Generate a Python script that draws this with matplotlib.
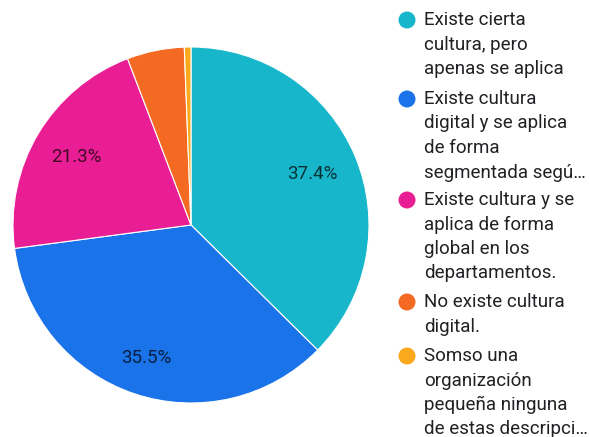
import matplotlib
matplotlib.use("Agg")
import matplotlib.pyplot as plt
from matplotlib.patches import Ellipse
import numpy as np

plt.rcParams['font.family'] = ['Roboto', 'DejaVu Sans']

# Survey answers and shares (%)
labels = [
    "Existe cierta\ncultura, pero\napenas se aplica",
    "Existe cultura\ndigital y se aplica\nde forma\nsegmentada segú…",
    "Existe cultura y se\naplica de forma\nglobal en los\ndepartamentos.",
    "No existe cultura\ndigital.",
    "Somso una\norganización\npequeña ninguna\nde estas descripci…",
]
shares = [37.4, 35.5, 21.3, 5.2, 0.6]
colors = ["#17B6CA", "#1A73E8", "#EA1E94", "#F46A22", "#FBA91C"]

W, H = 589, 437
fig = plt.figure(figsize=(W / 100, H / 100), dpi=100)

# pie centred at (191, 225) px, radius 178 px
cx, cy, r = 191, 225, 178
ax = fig.add_axes([(cx - r) / W, (H - cy - r) / H, 2 * r / W, 2 * r / H])
wedges, _ = ax.pie(shares, colors=colors, startangle=90, counterclock=False,
                   radius=1.0, wedgeprops=dict(edgecolor="white", linewidth=0.8))
ax.set_xlim(-1, 1)
ax.set_ylim(-1, 1)
ax.set_aspect("equal")
ax.axis("off")

# percentage labels on the three larger slices
label_rad = {0: 0.74, 1: 0.79, 2: 0.75}
for i, w in enumerate(wedges):
    if i not in label_rad:
        continue
    mid = np.deg2rad((w.theta1 + w.theta2) / 2)
    rad = label_rad[i]
    ax.text(rad * np.cos(mid), rad * np.sin(mid), f"{shares[i]:.1f}%",
            ha="center", va="center", fontsize=13.5, color="black", alpha=0.72)

# legend: circle marker aligned with the first text line
entry_top = [20, 99, 200, 302, 356]
line_gap = 24.5
for lab, col, y0 in zip(labels, colors, entry_top):
    fig.patches.append(Ellipse((407 / W, 1 - y0 / H), 17 / W, 17 / H,
                               transform=fig.transFigure, facecolor=col, edgecolor="none"))
    for k, line in enumerate(lab.split("\n")):
        fig.text(424 / W, 1 - (y0 + k * line_gap) / H, line, ha="left", va="center",
                 fontsize=13.5, color="#202124")

fig.savefig("out.png", dpi=100)
